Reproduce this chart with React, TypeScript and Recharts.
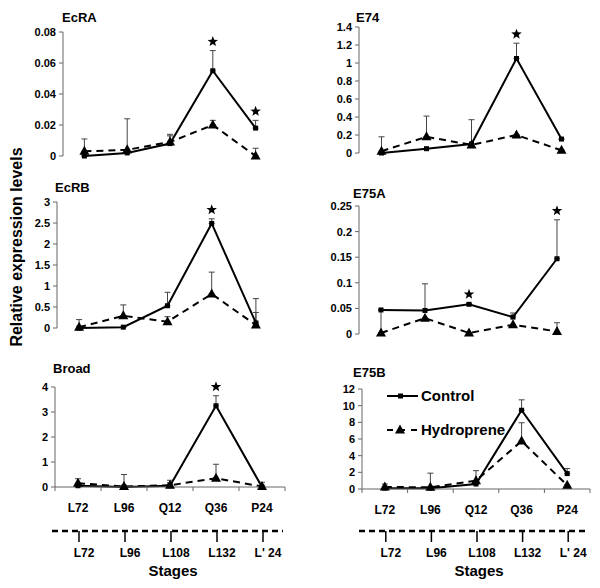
import React from 'react';
import { LineChart, Line, XAxis, YAxis, ErrorBar } from 'recharts';

const STAGES = ['L72', 'L96', 'Q12', 'Q36', 'P24'];
const LOWER_STAGES = ['L72', 'L96', 'L108', 'L132', "L' 24"];

const ecraControl = [0.0, 0.002, 0.008, 0.055, 0.018];
const ecraControlErr = [0, 0, 0.006, 0.013, 0.005];
const ecraHydro = [0.003, 0.004, 0.009, 0.02, 0.0];
const ecraHydroErr = [0.008, 0.02, 0.004, 0.003, 0.005];
const ecraStars = ['Q36', 'P24'];
const ecraTicks = [0, 0.02, 0.04, 0.06, 0.08];

const e74Control = [0, 0.048, 0.1, 1.05, 0.155];
const e74ControlErr = [0, 0, 0, 0.17, 0];
const e74Hydro = [0.02, 0.18, 0.09, 0.2, 0.03];
const e74HydroErr = [0.16, 0.23, 0.28, 0, 0];
const e74Stars = ['Q36'];
const e74Ticks = [0, 0.2, 0.4, 0.6, 0.8, 1, 1.2, 1.4];

const ecrbControl = [0, 0.02, 0.53, 2.49, 0.12];
const ecrbControlErr = [0, 0, 0.32, 0.11, 0.25];
const ecrbHydro = [0.02, 0.29, 0.15, 0.81, 0.07];
const ecrbHydroErr = [0.18, 0.26, 0.12, 0.52, 0.63];
const ecrbStars = ['Q36'];
const ecrbTicks = [0, 0.5, 1, 1.5, 2, 2.5, 3];

const e75aControl = [0.047, 0.046, 0.058, 0.033, 0.147];
const e75aControlErr = [0, 0.052, 0.002, 0.008, 0.076];
const e75aHydro = [0.002, 0.031, 0.002, 0.018, 0.005];
const e75aHydroErr = [0.045, 0, 0, 0, 0.017];
const e75aStars = ['Q12', 'P24'];
const e75aTicks = [0, 0.05, 0.1, 0.15, 0.2, 0.25];

const broadControl = [0.05, 0, 0.05, 3.25, 0];
const broadControlErr = [0, 0, 0.12, 0.4, 0];
const broadHydro = [0.15, 0.02, 0.07, 0.35, 0.02];
const broadHydroErr = [0.18, 0.48, 0.2, 0.56, 0.17];
const broadStars = ['Q36'];
const broadTicks = [0, 1, 2, 3, 4];

const e75bControl = [0.1, 0.1, 0.6, 9.45, 1.85];
const e75bControlErr = [0, 0, 0, 1.25, 0.6];
const e75bHydro = [0.25, 0.2, 1.0, 5.75, 0.45];
const e75bHydroErr = [0.35, 1.7, 1.2, 2.2, 0];
const e75bStars: string[] = [];
const e75bTicks = [0, 2, 4, 6, 8, 10, 12];

const FONT = '"Liberation Sans", Arial, sans-serif';
const AXIS = '#666';
const HALF_TICKS = [-0.5, 0, 0.5, 1, 1.5, 2, 2.5, 3, 3.5, 4, 4.5];

const makeRows = (c: number[], ce: number[], h: number[], he: number[], stars: string[]) =>
  STAGES.map((s, i) => ({
    i,
    stage: s,
    control: c[i],
    cErr: [0, ce[i]],
    hydro: h[i],
    hErr: [0, he[i]],
    star: stars.includes(s) ? c[i] + ce[i] : null,
  }));

const StageTick = (props: any) => {
  const { x, y, payload } = props;
  const v = payload.value;
  if (Number.isInteger(v)) {
    return (
      <text x={x} y={y + 25} textAnchor="middle" fontSize={12} fontWeight="bold" fontFamily={FONT} fill="#000">
        {STAGES[v]}
      </text>
    );
  }
  return <line x1={x} x2={x} y1={y} y2={y + 4} stroke={AXIS} strokeWidth={1} />;
};

const SquareDot = (props: any) => {
  const { cx, cy, index } = props;
  if (cx == null || cy == null) return <g key={index} />;
  return <rect key={index} x={cx - 2.5} y={cy - 2.5} width={5} height={5} fill="#000" />;
};

const TriangleDot = (props: any) => {
  const { cx, cy, index } = props;
  if (cx == null || cy == null) return <g key={index} />;
  return <path key={index} d={`M${cx},${cy - 5.5} L${cx - 5},${cy + 3.5} L${cx + 5},${cy + 3.5} Z`} fill="#000" />;
};

// five-pointed star drawn as a path, centred above the top of the error bar
const StarDot = (props: any) => {
  const { cx, cy, index, payload } = props;
  if (cx == null || cy == null || payload.star == null) return <g key={index} />;
  const sx = cx;
  const sy = cy - 9;
  const pts: string[] = [];
  for (let k = 0; k < 10; k++) {
    const r = k % 2 === 0 ? 5.5 : 2.3;
    const a = -Math.PI / 2 + (k * Math.PI) / 5;
    pts.push(`${(sx + r * Math.cos(a)).toFixed(2)},${(sy + r * Math.sin(a)).toFixed(2)}`);
  }
  return <polygon key={index} points={pts.join(' ')} fill="#000" />;
};

type Box = { x0: number; x1: number; yt: number; yb: number };

const Panel = ({ rows, ticks, box, showX }: { rows: any[]; ticks: number[]; box: Box; showX: boolean }) => {
  const YW = 45;
  const MT = 22;
  const MR = 6;
  const MB = 10;
  const width = YW + (box.x1 - box.x0) + MR;
  const height = MT + (box.yb - box.yt) + (showX ? 30 : 0) + MB;
  return (
    <div style={{ position: 'absolute', left: box.x0 - YW, top: box.yt - MT }}>
      <LineChart width={width} height={height} data={rows} margin={{ top: MT, right: MR, left: 0, bottom: MB }}>
        {showX ? (
          <XAxis
            type="number"
            dataKey="i"
            domain={[-0.5, 4.5]}
            ticks={HALF_TICKS}
            interval={0}
            height={30}
            tickLine={false}
            tickSize={0}
            tickMargin={0}
            axisLine={{ stroke: AXIS }}
            tick={<StageTick />}
          />
        ) : (
          <XAxis type="number" dataKey="i" domain={[-0.5, 4.5]} hide />
        )}
        <YAxis
          width={YW}
          domain={[0, ticks[ticks.length - 1]]}
          ticks={ticks}
          interval={0}
          tickSize={4}
          tickMargin={3}
          axisLine={{ stroke: AXIS }}
          tickLine={{ stroke: AXIS }}
          tick={{ fontSize: 11, fontWeight: 'bold', fill: '#000', fontFamily: FONT }}
        />
        <Line
          dataKey="hydro"
          stroke="#000"
          strokeWidth={2}
          strokeDasharray="7 5"
          dot={<TriangleDot />}
          isAnimationActive={false}
        >
          <ErrorBar dataKey="hErr" direction="y" width={3} stroke="#444" strokeWidth={1} />
        </Line>
        <Line dataKey="control" stroke="#000" strokeWidth={2} dot={<SquareDot />} isAnimationActive={false}>
          <ErrorBar dataKey="cErr" direction="y" width={3} stroke="#444" strokeWidth={1} />
        </Line>
        <Line dataKey="star" stroke="none" dot={<StarDot />} activeDot={false} isAnimationActive={false} />
      </LineChart>
    </div>
  );
};

const PANELS = [
  { title: 'EcRA', tx: 62, ty: 22, box: { x0: 63, x1: 277, yt: 32, yb: 156 }, ticks: ecraTicks, showX: false,
    rows: makeRows(ecraControl, ecraControlErr, ecraHydro, ecraHydroErr, ecraStars) },
  { title: 'E74', tx: 356, ty: 22, box: { x0: 359, x1: 584, yt: 27, yb: 153 }, ticks: e74Ticks, showX: false,
    rows: makeRows(e74Control, e74ControlErr, e74Hydro, e74HydroErr, e74Stars) },
  { title: 'EcRB', tx: 55, ty: 192, box: { x0: 57, x1: 278, yt: 202, yb: 328 }, ticks: ecrbTicks, showX: false,
    rows: makeRows(ecrbControl, ecrbControlErr, ecrbHydro, ecrbHydroErr, ecrbStars) },
  { title: 'E75A', tx: 353, ty: 198, box: { x0: 359, x1: 579, yt: 206, yb: 334 }, ticks: e75aTicks, showX: false,
    rows: makeRows(e75aControl, e75aControlErr, e75aHydro, e75aHydroErr, e75aStars) },
  { title: 'Broad', tx: 53, ty: 373, box: { x0: 55, x1: 285, yt: 387, yb: 487 }, ticks: broadTicks, showX: true,
    rows: makeRows(broadControl, broadControlErr, broadHydro, broadHydroErr, broadStars) },
  { title: 'E75B', tx: 353, ty: 377, box: { x0: 362, x1: 590, yt: 389, yb: 489 }, ticks: e75bTicks, showX: true,
    rows: makeRows(e75bControl, e75bControlErr, e75bHydro, e75bHydroErr, e75bStars) },
];

const LowerStages = ({ box }: { box: Box }) => {
  const step = (box.x1 - box.x0) / 5;
  return (
    <g>
      <line x1={box.x0 - 3} x2={box.x1 - 2} y1={531} y2={531} stroke="#000" strokeWidth={2.5} strokeDasharray="6 4" />
      {LOWER_STAGES.map((s, i) => {
        const x = box.x0 + (i + 0.5) * step + 1;
        return (
          <g key={s}>
            <line x1={x} x2={x} y1={531} y2={542} stroke="#000" strokeWidth={1.5} />
            <text x={x + 5} y={557} textAnchor="middle" fontSize={12} fontWeight="bold" fontFamily={FONT}>
              {s}
            </text>
          </g>
        );
      })}
      <text x={(box.x0 + box.x1) / 2 + 3} y={576} textAnchor="middle" fontSize={15} fontWeight="bold" fontFamily={FONT}>
        Stages
      </text>
    </g>
  );
};

export default function App() {
  return (
    <div style={{ position: 'absolute', left: 0, top: 0, width: 600, height: 588, background: '#fff', overflow: 'hidden' }}>
      {PANELS.map((p) => (
        <Panel key={p.title} rows={p.rows} ticks={p.ticks} box={p.box} showX={p.showX} />
      ))}
      <svg width={600} height={588} style={{ position: 'absolute', left: 0, top: 0, pointerEvents: 'none' }}>
        {PANELS.map((p) => (
          <text key={p.title} x={p.tx} y={p.ty} fontSize={13} fontWeight="bold" fontFamily={FONT}>
            {p.title}
          </text>
        ))}
        <text
          x={0}
          y={0}
          transform="translate(22,247) rotate(-90)"
          textAnchor="middle"
          fontSize={16}
          fontWeight="bold"
          fontFamily={FONT}
        >
          Relative expression levels
        </text>
        <LowerStages box={PANELS[4].box} />
        <LowerStages box={PANELS[5].box} />
        <g>
          <line x1={387} x2={418} y1={396} y2={396} stroke="#000" strokeWidth={2} />
          <rect x={398} y={393.5} width={5} height={5} fill="#000" />
          <text x={421} y={401} fontSize={15} fontWeight="bold" fontFamily={FONT}>Control</text>
          <line x1={387} x2={418} y1={430} y2={430} stroke="#000" strokeWidth={2} strokeDasharray="6 6" />
          <path d="M400,424.5 L395,433.5 L405,433.5 Z" fill="#000" />
          <text x={421} y={435} fontSize={15} fontWeight="bold" fontFamily={FONT}>Hydroprene</text>
        </g>
      </svg>
    </div>
  );
}
